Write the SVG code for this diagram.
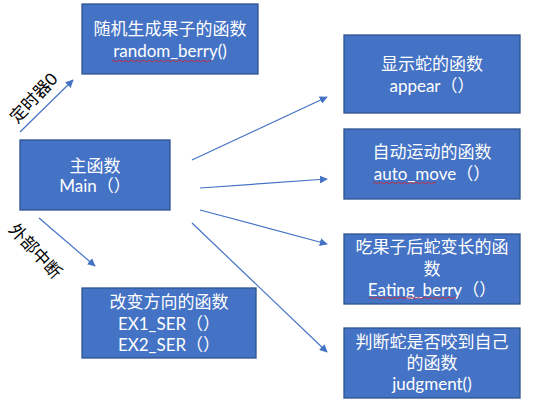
<svg xmlns="http://www.w3.org/2000/svg" width="533" height="411" viewBox="0 0 533 411">
<style>
.box{fill:#4472C4;stroke:#2F528F;stroke-width:1.3}
.t{fill:#fff;font-family:Lato,"Noto Sans CJK SC","Microsoft YaHei",sans-serif;font-size:17px;text-anchor:middle}
.lbl{fill:#000;font-family:Lato,"Noto Sans CJK SC",sans-serif;font-size:17px;text-anchor:middle}
.c{stroke:#4472C4;stroke-width:1.2;fill:none;marker-end:url(#ah)}
.sq{stroke:#e02020;stroke-width:0.8;fill:none}
</style>
<defs>
<marker id="ah" viewBox="0 0 10 10" refX="9" refY="5" markerWidth="8" markerHeight="8" markerUnits="userSpaceOnUse" orient="auto">
<path d="M0,0 L10,5 L0,10 z" fill="#4472C4"/>
</marker>
</defs>
<rect width="533" height="411" fill="#fff"/>
<g id="connectors">
<line class="c" x1="20" y1="132" x2="73" y2="80"/>
<line class="c" x1="39" y1="218" x2="95" y2="266"/>
<line class="c" x1="192" y1="160" x2="327" y2="97"/>
<line class="c" x1="200" y1="188" x2="327" y2="179"/>
<line class="c" x1="200" y1="210" x2="327" y2="244"/>
<line class="c" x1="192" y1="223" x2="327" y2="352"/>
<text class="lbl" transform="translate(38,102) rotate(-47)">定时器0</text>
<text class="lbl" transform="translate(31,255) rotate(47)">外部中断</text>
</g>
<g id="node-random">
<rect class="box" x="82" y="4" width="176" height="70"/>
<text class="t" x="170" y="35">随机生成果子的函数</text>
<text class="t" x="170" y="57">random_berry()</text>
<path class="sq" d="M112,61 q1.5,-1.5 3,0 t3,0 t3,0 t3,0 t3,0 t3,0 t3,0 t3,0 t3,0 t3,0 t3,0 t3,0 t3,0 t3,0 t3,0 t3,0 t3,0 t3,0 t3,0 t3,0 t3,0 t3,0 t3,0 t3,0 t3,0 t3,0 t3,0 t3,0 t3,0 t3,0 t3,0 t3,0 t3,0"/>
</g>
<g id="node-main">
<rect class="box" x="20" y="140" width="150" height="70"/>
<text class="t" x="95" y="172">主函数</text>
<text class="t" x="95" y="192">Main（）</text>
</g>
<g id="node-direction">
<rect class="box" x="82" y="288" width="174" height="70"/>
<text class="t" x="169" y="308">改变方向的函数</text>
<text class="t" x="169" y="330">EX1_SER（）</text>
<text class="t" x="169" y="351">EX2_SER（）</text>
</g>
<g id="node-appear">
<rect class="box" x="344" y="35" width="176" height="78"/>
<text class="t" x="432" y="70">显示蛇的函数</text>
<text class="t" x="432" y="92">appear（）</text>
</g>
<g id="node-auto">
<rect class="box" x="344" y="129" width="176" height="70"/>
<text class="t" x="432" y="158">自动运动的函数</text>
<text class="t" x="432" y="180">auto_move（）</text>
<path class="sq" d="M373,183 q1.5,-1.5 3,0 t3,0 t3,0 t3,0 t3,0 t3,0 t3,0 t3,0 t3,0 t3,0 t3,0 t3,0 t3,0 t3,0 t3,0 t3,0 t3,0 t3,0 t3,0 t3,0 t3,0"/>
</g>
<g id="node-eating">
<rect class="box" x="344" y="234" width="176" height="70"/>
<text class="t" x="432" y="253">吃果子后蛇变长的函</text>
<text class="t" x="432" y="275">数</text>
<text class="t" x="432" y="296">Eating_berry（）</text>
<path class="sq" d="M369,298 q1.5,-1.5 3,0 t3,0 t3,0 t3,0 t3,0 t3,0 t3,0 t3,0 t3,0 t3,0 t3,0 t3,0 t3,0 t3,0 t3,0 t3,0 t3,0 t3,0 t3,0 t3,0 t3,0 t3,0 t3,0 t3,0 t3,0 t3,0 t3,0 t3,0 t3,0"/>
</g>
<g id="node-judgment">
<rect class="box" x="344" y="328" width="176" height="70"/>
<text class="t" x="432" y="348">判断蛇是否咬到自己</text>
<text class="t" x="432" y="369">的函数</text>
<text class="t" x="432" y="390">judgment()</text>
</g>
</svg>
